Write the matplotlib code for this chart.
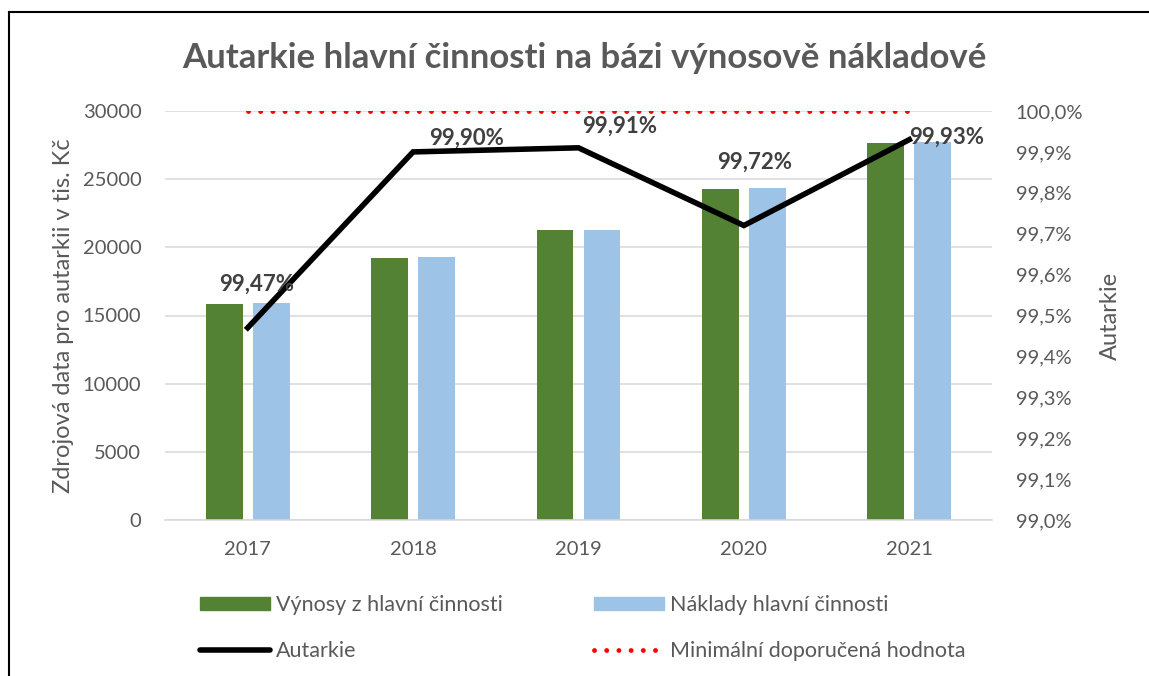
import matplotlib
matplotlib.use('Agg')
import matplotlib.pyplot as plt
import matplotlib.lines as mlines
import matplotlib.patches as mpatches
from matplotlib.ticker import FuncFormatter, MultipleLocator

plt.rcParams['font.family'] = ['Lato', 'DejaVu Sans']

# Data
roky = ['2017', '2018', '2019', '2020', '2021']
vynosy = [15830, 19240, 21250, 24280, 27680]
naklady = [15940, 19270, 21290, 24330, 27700]
autarkie = [99.47, 99.90, 99.91, 99.72, 99.93]
minimum = [100.0, 100.0, 100.0, 100.0, 100.0]

seda = '#595959'
zelena = '#548235'
modra = '#9DC3E6'

fig = plt.figure(figsize=(11.49, 6.76), dpi=100)
ax = fig.add_axes([165/1149, 1 - 520/676, 827/1149, 409/676])
ax2 = ax.twinx()

x = range(len(roky))
w = 0.223
ax.bar([i - 0.142 for i in x], vynosy, width=w, color=zelena, zorder=2)
ax.bar([i + 0.142 for i in x], naklady, width=w, color=modra, zorder=2)

ax.set_xlim(-0.5, 4.5)
ax.set_ylim(0, 30000)
ax.yaxis.set_major_locator(MultipleLocator(5000))
ax.grid(axis='y', color='#D9D9D9', linewidth=1.1, zorder=0)
ax.set_axisbelow(True)
for s in ['top', 'right', 'left']:
    ax.spines[s].set_visible(False)
ax.spines['bottom'].set_color('#D9D9D9')
ax.spines['bottom'].set_linewidth(1.1)
ax.set_xticks(list(x))
ax.set_xticklabels(roky)
ax.tick_params(axis='both', length=0, labelsize=14.5, colors=seda)
ax.tick_params(axis='x', pad=15)
ax.tick_params(axis='y', pad=17)
ax.set_ylabel('Zdrojová data pro autarkii v tis. Kč', fontsize=17, color=seda, labelpad=6)

# sekundarni osa
ax2.plot(list(x), autarkie, color='black', linewidth=4, solid_joinstyle='miter', zorder=3)
ax2.plot(list(x), minimum, color='red', linewidth=3.5, linestyle=(0, (0.01, 2.5)),
         dash_capstyle='round', zorder=3)
ax2.set_ylim(99.0, 100.0)
ax2.yaxis.set_major_locator(MultipleLocator(0.1))
ax2.yaxis.set_major_formatter(FuncFormatter(lambda v, p: f'{v:.1f}%'.replace('.', ',')))
for s in ['top', 'right', 'left', 'bottom']:
    ax2.spines[s].set_visible(False)
ax2.tick_params(axis='y', length=0, labelsize=14.5, colors=seda, pad=17)
ax2.set_ylabel('Autarkie', fontsize=17, color=seda, labelpad=12)

# popisky hodnot
posuny = [(9, 44), (53, 14), (41, 22), (11, 63), (37, 2)]
for i, v in enumerate(autarkie):
    ax2.annotate(f'{v:.2f}%'.replace('.', ','), (i, v), xytext=posuny[i],
                 textcoords='offset pixels', ha='center', va='center',
                 fontsize=16, fontweight='bold', color='#404040', zorder=4)

fig.text(0.509, 1 - 58/676, 'Autarkie hlavní činnosti na bázi výnosově nákladové',
         ha='center', va='center', fontsize=25, fontweight='bold', color=seda)

# legenda
h1 = mpatches.Patch(color=zelena)
h2 = mpatches.Patch(color=modra)
h3 = mlines.Line2D([], [], color='black', linewidth=4, solid_capstyle='round')
h4 = mlines.Line2D([], [], color='red', linewidth=3.5, linestyle=(0, (0.01, 2.5)),
                   dash_capstyle='round')
leg_kw = dict(frameon=False, fontsize=15.5, handlelength=3.25, handletextpad=0.3,
              labelspacing=1.23, borderpad=0, borderaxespad=0, loc='upper left',
              labelcolor=seda, handleheight=0.6)
l1 = fig.legend([h1, h3], ['Výnosy z hlavní činnosti', 'Autarkie'],
                bbox_to_anchor=(200/1149, 1 - 595/676), **leg_kw)
l2 = fig.legend([h2, h4], ['Náklady hlavní činnosti', 'Minimální doporučená hodnota'],
                bbox_to_anchor=(594/1149, 1 - 595/676), **leg_kw)

# ramecek
fig.add_artist(mlines.Line2D([9/1149, 9/1149], [0, 1 - 12/676], color='black',
                             linewidth=1.5, transform=fig.transFigure))
fig.add_artist(mlines.Line2D([9/1149, 1], [1 - 12/676, 1 - 12/676], color='black',
                             linewidth=1.5, transform=fig.transFigure))

fig.savefig('out.png', dpi=100)
